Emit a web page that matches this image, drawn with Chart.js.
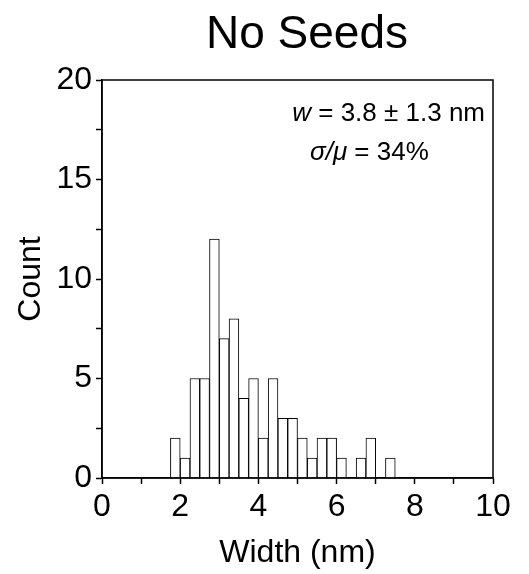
<!DOCTYPE html>
<html>
<head>
<meta charset="utf-8">
<script src="https://cdn.jsdelivr.net/npm/chart.js@4/dist/chart.umd.min.js"></script>
<style>
  html, body { margin: 0; padding: 0; background: #fff; }
  canvas { display: block; }
</style>
</head>
<body>
<canvas id="histChart" width="529" height="574"></canvas>
<script>
// Histogram bins (left edge, nm) and counts
const binStarts = [1.75, 2.0, 2.25, 2.5, 2.75, 3.0, 3.25, 3.5, 3.75, 4.0, 4.25, 4.5,
                   4.75, 5.0, 5.25, 5.5, 5.75, 6.0, 6.25, 6.5, 6.75, 7.0, 7.25];
const counts    = [2, 1, 5, 5, 12, 7, 8, 4, 5, 2, 5, 3,
                   3, 2, 1, 2, 2, 1, 0, 1, 2, 0, 1];
const binWidth = 0.25;
const xTickLabels = [0, 2, 4, 6, 8, 10];
const yTickLabels = [0, 5, 10, 15, 20];

const FONT = 'Arial, "Liberation Sans", sans-serif';

// frame + title + stats text
const decor = {
  id: 'decor',
  afterDraw(chart) {
    const { ctx, chartArea: a } = chart;
    ctx.save();
    ctx.strokeStyle = '#000';
    ctx.lineWidth = 1.5;
    ctx.strokeRect(a.left, a.top, a.right - a.left, a.bottom - a.top);

    ctx.fillStyle = '#000';
    ctx.textBaseline = 'alphabetic';
    ctx.textAlign = 'center';
    ctx.font = '46px ' + FONT;
    ctx.fillText('No Seeds', 307, 48);

    // w = 3.8 ± 1.3 nm (right aligned)
    ctx.textAlign = 'left';
    ctx.font = '26px ' + FONT;
    const rest1 = ' = 3.8 \u00b1 1.3 nm';
    const w1 = ctx.measureText(rest1).width;
    ctx.font = 'italic 26px ' + FONT;
    const wv = ctx.measureText('w').width;
    let x = 485 - w1 - wv;
    ctx.fillText('w', x, 121);
    ctx.font = '26px ' + FONT;
    ctx.fillText(rest1, x + wv, 121);

    // σ/μ = 34%
    ctx.font = 'italic 26px ' + FONT;
    const sv = ctx.measureText('\u03c3/\u03bc').width;
    x = 310;
    ctx.fillText('\u03c3/\u03bc', x, 160);
    ctx.font = '26px ' + FONT;
    ctx.fillText(' = 34%', x + sv, 160);
    ctx.restore();
  }
};

new Chart(document.getElementById('histChart'), {
  type: 'bar',
  data: {
    datasets: [{
      label: 'Count',
      data: binStarts.map((s, i) => ({ x: s + binWidth / 2, y: counts[i] })),
      backgroundColor: '#fff',
      borderColor: '#000',
      borderWidth: 1,
      barPercentage: 1,
      categoryPercentage: 1
    }]
  },
  options: {
    responsive: false,
    animation: false,
    layout: { padding: { left: 0, right: 36, top: 80, bottom: 0 } },
    plugins: { legend: { display: false }, tooltip: { enabled: false } },
    scales: {
      x: {
        type: 'linear',
        min: 0,
        max: 10,
        offset: false,
        afterFit: (s) => { s.height = 96; },
        grid: { offset: false, drawOnChartArea: false, color: '#000', tickLength: 6, tickWidth: 1.5 },
        border: { color: '#000', width: 1.5 },
        ticks: {
          stepSize: 1,
          autoSkip: false,
          maxRotation: 0,
          color: '#000',
          padding: 4,
          font: { family: FONT, size: 32 },
          callback: (v) => xTickLabels.includes(v) ? String(v) : ''
        },
        title: { display: true, text: 'Width (nm)', color: '#000', font: { family: FONT, size: 32 }, padding: { top: 0, bottom: 2 } }
      },
      y: {
        min: 0,
        max: 20,
        afterFit: (s) => { s.width = 102; },
        grid: { drawOnChartArea: false, color: '#000', tickLength: 6, tickWidth: 1.5 },
        border: { color: '#000', width: 1.5 },
        ticks: {
          stepSize: 2.5,
          autoSkip: false,
          color: '#000',
          padding: 4,
          font: { family: FONT, size: 32 },
          callback: (v) => yTickLabels.includes(v) ? String(v) : ''
        },
        title: { display: true, text: 'Count', color: '#000', font: { family: FONT, size: 32 }, padding: { top: 12, bottom: 0 } }
      }
    }
  },
  plugins: [decor]
});
</script>
</body>
</html>
